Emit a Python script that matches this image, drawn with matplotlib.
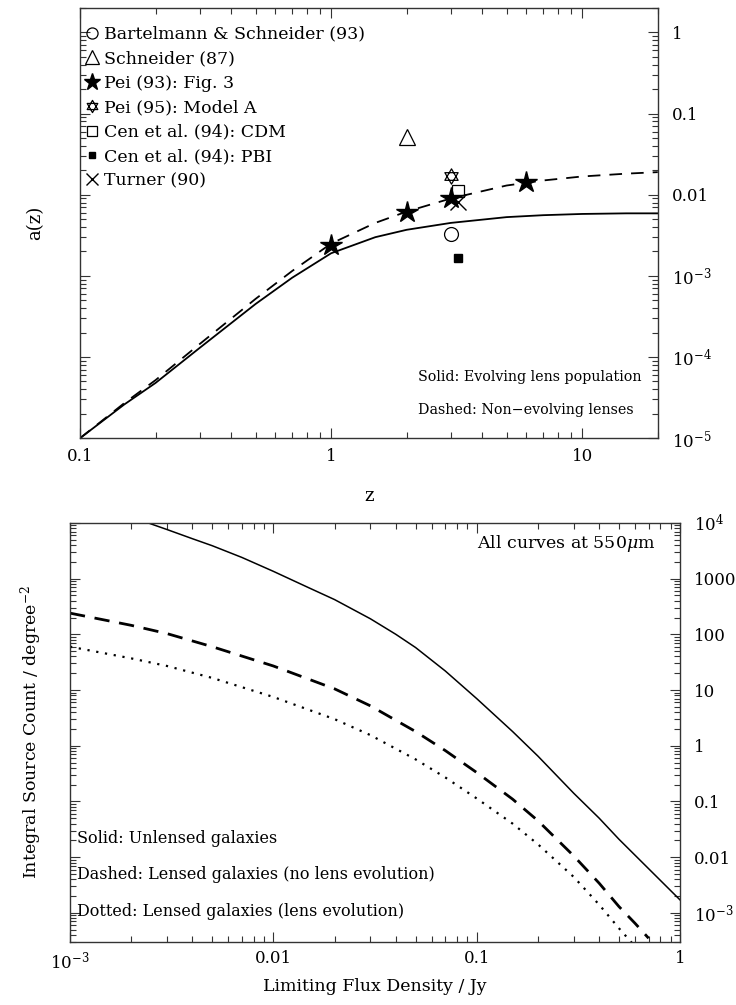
import numpy as np
import matplotlib
matplotlib.use("Agg")
import matplotlib.pyplot as plt
import matplotlib.path as mpath
from matplotlib.ticker import LogLocator, FixedLocator, FuncFormatter, NullFormatter

plt.rcParams['font.family'] = ['DejaVu Serif']
plt.rcParams['mathtext.fontset'] = 'dejavuserif'

# ---- top panel: a(z) ----
z_curve = [0.1, 0.15, 0.2, 0.3, 0.5, 0.7, 1, 1.5, 2, 3, 5, 7, 10, 15, 20]
a_evolving = [1e-5, 2.6e-5, 4.8e-5, 1.3e-4, 4.5e-4, 9.5e-4, 0.0019, 0.0030,
              0.0037, 0.0045, 0.0053, 0.0056, 0.0058, 0.0059, 0.0059]
a_nonevol = [1e-5, 2.7e-5, 5.2e-5, 1.45e-4, 5.2e-4, 1.15e-3, 0.0025, 0.0045,
             0.0062, 0.0090, 0.0130, 0.0150, 0.0168, 0.0182, 0.019]

z_bart, a_bart = [3.0], [0.0033]
z_schn, a_schn = [2.0], [0.052]
z_pei93, a_pei93 = [1, 2, 3, 6], [0.0024, 0.0062, 0.0092, 0.0145]
z_pei95, a_pei95 = [3.0], [0.017]
z_cdm, a_cdm = [3.2], [0.0112]
z_pbi, a_pbi = [3.2], [0.00166]
z_turn, a_turn = [3.2], [0.0081]

# ---- bottom panel: source counts ----
S_unl = [0.002, 0.0025, 0.003, 0.004, 0.005, 0.007, 0.01, 0.015, 0.02, 0.03,
         0.04, 0.05, 0.07, 0.1, 0.15, 0.2, 0.3, 0.4, 0.5, 0.7, 1.0]
N_unlensed = [1.3e4, 9600, 7600, 5200, 3900, 2400, 1350, 680, 420, 190,
              100, 58, 22, 7.0, 1.8, 0.65, 0.14, 0.05, 0.021, 0.0062, 0.0017]

S_lens = [0.001, 0.002, 0.003, 0.005, 0.01, 0.02, 0.03, 0.05, 0.07, 0.1,
          0.15, 0.2, 0.3, 0.4, 0.5, 0.6, 0.7]
N_lens_noevol = [240, 145, 103, 60, 27, 10.5, 5.2, 1.8, 0.82, 0.33,
                 0.11, 0.045, 0.0105, 0.0034, 0.0013, 0.00065, 0.00035]
N_lens_evol = [60, 37, 27, 16.5, 7.5, 3.0, 1.55, 0.57, 0.27, 0.113,
               0.04, 0.017, 0.0044, 0.0014, 0.00053, 0.00025, 0.00012]


def logfmt(v, pos):
    e = int(round(np.log10(v)))
    if -2 <= e <= 3:
        return '%g' % v
    return r'$10^{%d}$' % e


# star of david marker (two triangles)
verts = [(0, 1), (-0.866, -0.5), (0.866, -0.5), (0, 1),
         (0, -1), (-0.866, 0.5), (0.866, 0.5), (0, -1)]
codes = [mpath.Path.MOVETO, mpath.Path.LINETO, mpath.Path.LINETO, mpath.Path.CLOSEPOLY] * 2
hexagram = mpath.Path(verts, codes)


def decades(lo, hi):
    e0 = int(np.ceil(np.log10(lo) - 1e-9))
    e1 = int(np.floor(np.log10(hi) + 1e-9))
    return [10.0 ** e for e in range(e0, e1 + 1)]


def style_axis(ax):
    ax.xaxis.set_major_locator(FixedLocator(decades(*ax.get_xlim())))
    ax.yaxis.set_major_locator(FixedLocator(decades(*ax.get_ylim())))
    for a in (ax.xaxis, ax.yaxis):
        a.set_minor_locator(LogLocator(base=10, subs=np.arange(2, 10), numticks=20))
    ax.tick_params(which='both', direction='in', top=True, right=True,
                   left=True, bottom=True, labelleft=False, labelright=True,
                   labelsize=12, width=0.8, color='#333333')
    ax.tick_params(which='major', length=7)
    ax.tick_params(which='minor', length=4)
    ax.tick_params(axis='y', pad=10)
    ax.tick_params(axis='x', pad=7)
    ax.xaxis.set_major_formatter(FuncFormatter(logfmt))
    ax.yaxis.set_major_formatter(FuncFormatter(logfmt))
    ax.xaxis.set_minor_formatter(NullFormatter())
    ax.yaxis.set_minor_formatter(NullFormatter())
    for sp in ax.spines.values():
        sp.set_linewidth(1.0)
        sp.set_color('#333333')


fig = plt.figure(figsize=(7.36, 10.05), dpi=100)

ax1 = fig.add_axes([0.1087, 0.564, 0.785, 0.428])
ax1.set_xscale('log')
ax1.set_yscale('log')
ax1.plot(z_curve, a_evolving, 'k-', lw=1.3)
ax1.plot(z_curve, a_nonevol, 'k--', lw=1.3, dashes=(7, 5))

kw = dict(ls='none', color='k')
h1, = ax1.plot(z_bart, a_bart, marker='o', ms=10, mfc='none', mew=0.9, label='Bartelmann & Schneider (93)', **kw)
h2, = ax1.plot(z_schn, a_schn, marker='^', ms=12, mfc='none', mew=0.9, label='Schneider (87)', **kw)
h3, = ax1.plot(z_pei93, a_pei93, marker='*', ms=16, label='Pei (93): Fig. 3', **kw)
h4, = ax1.plot(z_pei95, a_pei95, marker=hexagram, ms=11, mfc='none', mew=0.9, label='Pei (95): Model A', **kw)
h5, = ax1.plot(z_cdm, a_cdm, marker='s', ms=9, mfc='none', mew=0.9, label='Cen et al. (94): CDM', **kw)
h6, = ax1.plot(z_pbi, a_pbi, marker='s', ms=6, label='Cen et al. (94): PBI', **kw)
h7, = ax1.plot(z_turn, a_turn, marker='x', ms=11, mew=1.0, label='Turner (90)', **kw)
ax1.legend(handles=[h1, h2, h3, h4, h5, h6, h7], loc='upper left',
           bbox_to_anchor=(-0.006, 0.981), frameon=False, markerscale=0.8,
           fontsize=12.5, handlelength=0.7, handletextpad=0.35, labelspacing=0.43,
           borderaxespad=0.25, borderpad=0.3)

ax1.set_xlim(0.1, 20)
ax1.set_ylim(1e-5, 2.0)
style_axis(ax1)
ax1.set_xlabel('z', fontsize=13, labelpad=16)
ax1.set_ylabel('a(z)', fontsize=13, labelpad=26)
ax1.yaxis.set_label_position('left')
ax1.text(0.585, 0.142, 'Solid: Evolving lens population', transform=ax1.transAxes,
         fontsize=10.3, va='center')
ax1.text(0.585, 0.065, 'Dashed: Non\u2212evolving lenses', transform=ax1.transAxes,
         fontsize=10.3, va='center')

ax2 = fig.add_axes([0.0951, 0.0627, 0.829, 0.417])
ax2.set_xscale('log')
ax2.set_yscale('log')
ax2.plot(S_unl, N_unlensed, 'k-', lw=1.1)
ax2.plot(S_lens, N_lens_noevol, 'k--', lw=2.0, dashes=(5.5, 3.5))
ax2.plot(S_lens, N_lens_evol, 'k:', lw=1.6, dashes=(1, 3))
ax2.set_xlim(1e-3, 1)
ax2.set_ylim(3e-4, 1e4)
style_axis(ax2)
ax2.tick_params(axis='x', pad=6)
ax2.set_xlabel('Limiting Flux Density / Jy', fontsize=12.5, labelpad=4)
ax2.set_ylabel(r'Integral Source Count / degree$^{-2}$', fontsize=12.5, labelpad=19)
ax2.yaxis.set_label_position('left')
ax2.text(0.96, 0.95, r'All curves at 550$\mu$m', transform=ax2.transAxes,
         fontsize=12.5, ha='right', va='center')
ax2.text(0.012, 0.248, 'Solid: Unlensed galaxies', transform=ax2.transAxes,
         fontsize=11.5, va='center')
ax2.text(0.012, 0.16, 'Dashed: Lensed galaxies (no lens evolution)', transform=ax2.transAxes,
         fontsize=11.5, va='center')
ax2.text(0.012, 0.072, 'Dotted: Lensed galaxies (lens evolution)', transform=ax2.transAxes,
         fontsize=11.5, va='center')

fig.savefig('out.png', dpi=100)
